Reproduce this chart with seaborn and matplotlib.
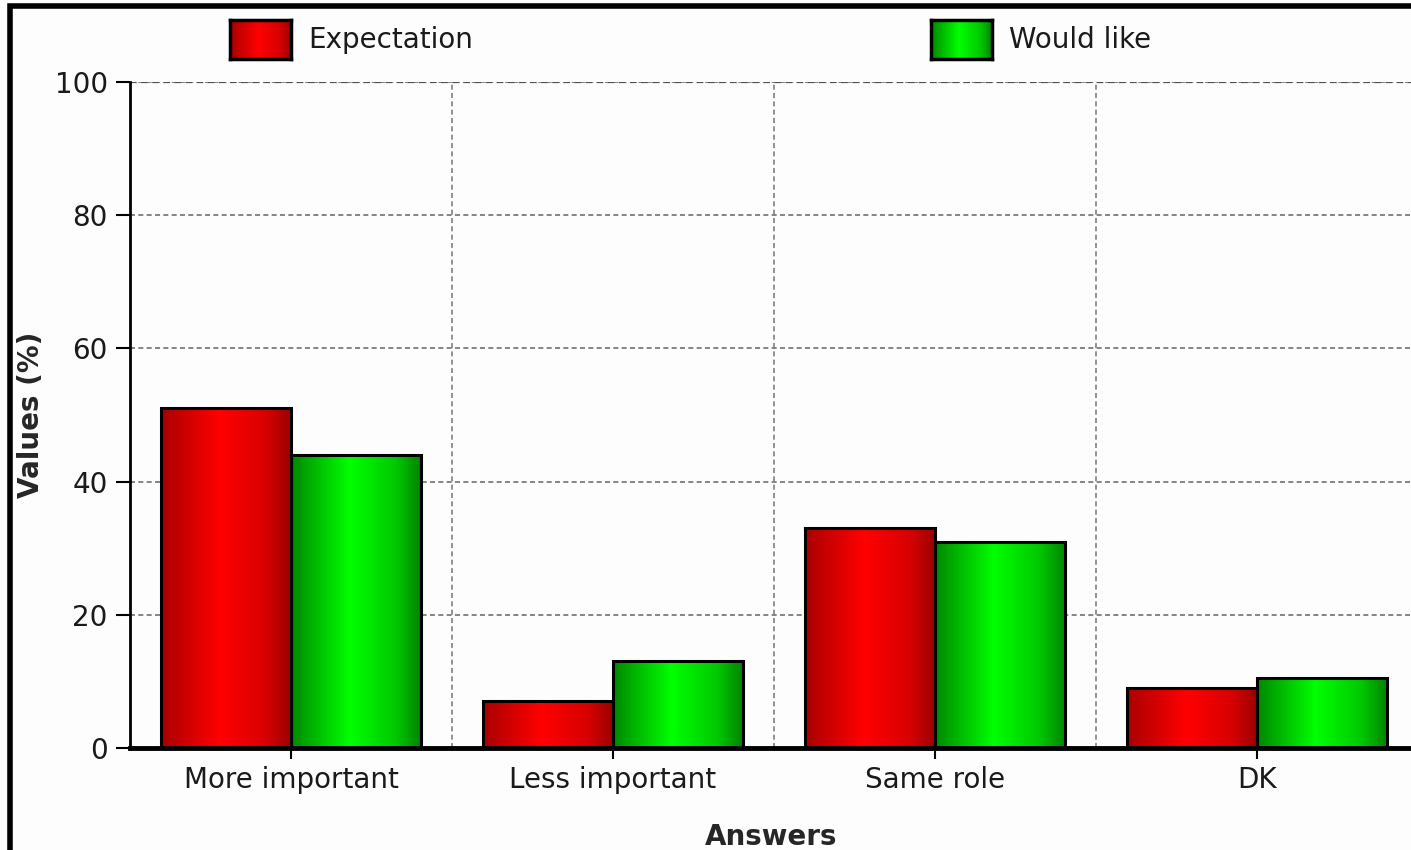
import numpy as np
import pandas as pd
import matplotlib
matplotlib.use("Agg")
import matplotlib.pyplot as plt
from matplotlib.colors import LinearSegmentedColormap
from matplotlib.patches import Patch, Rectangle
import seaborn as sns

# data
categories = ["More important", "Less important", "Same role", "DK"]
expectation = [51, 7, 33, 9]
would_like = [44, 13, 31, 10.5]
series_names = ["Expectation", "Would like"]
y_ticks = [0, 20, 40, 60, 80, 100]

df = pd.DataFrame({
    "Answers": categories * 2,
    "Values": expectation + would_like,
    "Series": [series_names[0]] * len(categories) + [series_names[1]] * len(categories),
})

sns.set_theme(style="white")
plt.rcParams["font.family"] = ["DejaVu Sans"]

# horizontal shading of the bars: dark edges, bright middle
red_cmap = LinearSegmentedColormap.from_list(
    "red_grad", [(0, "#a80000"), (0.12, "#c00000"), (0.45, "#ff0000"), (0.8, "#d80000"), (1, "#9a0000")])
green_cmap = LinearSegmentedColormap.from_list(
    "green_grad", [(0, "#008800"), (0.12, "#00a800"), (0.45, "#00ff00"), (0.8, "#00c800"), (1, "#008200")])
grad = np.linspace(0, 1, 256).reshape(1, -1)

fig = plt.figure(figsize=(14.11, 8.5), dpi=100)
fig.patch.set_facecolor("#fdfdfd")
ax = fig.add_axes([130 / 1411, 102 / 850, 1288 / 1411, 666 / 850])
ax.set_facecolor("#fdfdfd")

sns.barplot(data=df, x="Answers", y="Values", hue="Series", order=categories,
            hue_order=series_names, palette=["#e00000", "#00e000"], width=0.81,
            edgecolor="black", linewidth=2.2, legend=False, ax=ax, zorder=3)

# gradient fill clipped to each bar
n = len(categories)
for i, bar in enumerate(ax.patches):
    cmap = red_cmap if i < n else green_cmap
    x0, y0 = bar.get_x(), bar.get_y()
    w, h = bar.get_width(), bar.get_height()
    ax.imshow(grad, cmap=cmap, aspect="auto", extent=[x0, x0 + w, y0, y0 + h],
              zorder=3.5, interpolation="bilinear")
    bar.set_facecolor("none")
    bar.set_zorder(4)
ax.set_xlim(-0.5, 3.5)
ax.set_ylim(0, 100)
ax.set_aspect("auto")

# grid: dashed horizontal lines and vertical lines between categories
ax.set_yticks(y_ticks)
for yv in y_ticks[1:]:
    ax.axhline(yv, color="#707070", linestyle=(0, (3, 2)), linewidth=1.2, zorder=1)
ax.axhline(100, color="#505050", linestyle=(0, (3, 2)), linewidth=1.6, zorder=1)
for xv in np.arange(0.5, n, 1.0):
    ax.axvline(xv, color="#808080", linestyle=(0, (3, 2)), linewidth=1.2, zorder=1)

for side in ["top", "right"]:
    ax.spines[side].set_visible(False)
ax.spines["left"].set_linewidth(2)
ax.spines["left"].set_color("black")
ax.spines["bottom"].set_linewidth(3.5)
ax.spines["bottom"].set_color("black")
ax.spines["bottom"].set_zorder(5)

ax.tick_params(axis="y", direction="out", length=10, width=1.5, color="black",
               labelsize=20, pad=6, left=True)
ax.tick_params(axis="x", direction="out", length=8, width=1.5, color="black",
               labelsize=20, pad=5, bottom=True)
for lbl in ax.get_yticklabels() + ax.get_xticklabels():
    lbl.set_color("#1a1a1a")

ax.set_xlabel("Answers", fontsize=20, fontweight="bold", labelpad=22)
ax.set_ylabel("Values (%)", fontsize=20, fontweight="bold")
ax.xaxis.set_label_coords(0.498, -0.112)
ax.yaxis.set_label_coords(-0.066, 0.5)

# legend across the top
handles = [Patch(facecolor="#e00000", edgecolor="black", linewidth=2),
           Patch(facecolor="#00e000", edgecolor="black", linewidth=2)]
leg = fig.legend(handles, series_names, loc="upper left", bbox_to_anchor=(219 / 1411, 1 - 9 / 850),
                 ncol=2, frameon=False, fontsize=20, handlelength=2.2, handleheight=1.75,
                 handletextpad=0.6, columnspacing=16.5, borderaxespad=0)
for txt in leg.get_texts():
    txt.set_color("#1a1a1a")

# gradient on the legend swatches
fig.canvas.draw()
renderer = fig.canvas.get_renderer()
for h, cmap in zip(leg.legend_handles, [red_cmap, green_cmap]):
    bb = h.get_window_extent(renderer).transformed(fig.transFigure.inverted())
    sax = fig.add_axes([bb.x0, bb.y0, bb.width, bb.height], zorder=20)
    sax.imshow(grad, cmap=cmap, aspect="auto", interpolation="bilinear")
    sax.set_xticks([])
    sax.set_yticks([])
    for sp in sax.spines.values():
        sp.set_linewidth(2.5)
        sp.set_color("black")

# outer frame of the picture
fig.patches.append(Rectangle((10 / 1411, -0.1), 1.2, 1.1 - 6 / 850, transform=fig.transFigure,
                             fill=False, edgecolor="black", linewidth=4, zorder=10))

fig.savefig("out.png", dpi=100, facecolor=fig.get_facecolor())
